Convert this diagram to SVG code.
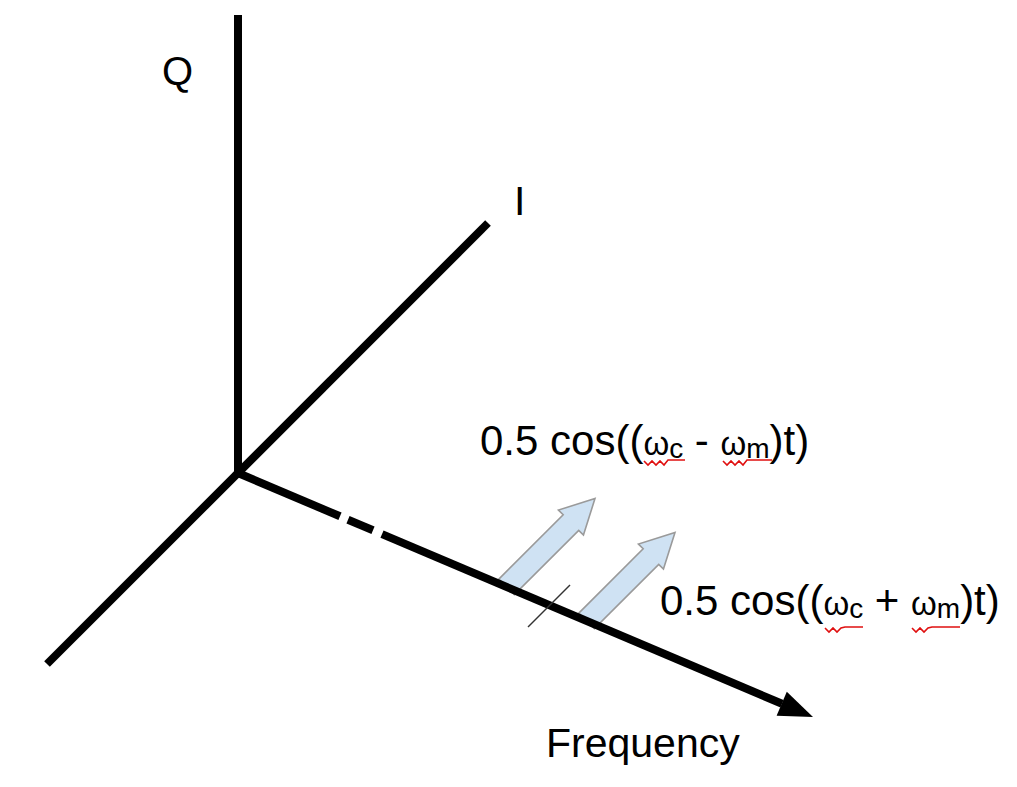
<svg xmlns="http://www.w3.org/2000/svg" width="1017" height="787" viewBox="0 0 1017 787">
<style>
.axis{stroke:#000;stroke-width:8;fill:none;stroke-linecap:butt}
.t{font-family:"Liberation Sans",Arial,sans-serif;fill:#000}
.big{font-size:42px}
.sub{font-size:28px}
.om{font-size:33px}
.blk{fill:#cfe2f3;stroke:#9a9a9a;stroke-width:1.6;stroke-linejoin:miter}
.sq{stroke:#e01010;stroke-width:1.6;fill:none}
</style>
<defs>
<polygon id="blockArrow" class="blk" points="0,-11 91,-11 91,-17.7 125,0 91,17.7 91,11 0,11"/>
</defs>
<rect width="1017" height="787" fill="#fff"/>
<g id="vectors">
<use href="#blockArrow" transform="translate(506.6,586.9) rotate(-45)"/>
<use href="#blockArrow" transform="translate(586.6,620.9) rotate(-45)"/>
</g>
<g id="connectors">
<line id="q-axis" class="axis" x1="238" y1="15" x2="238" y2="477"/>
<line id="i-axis" class="axis" x1="47" y1="664" x2="488" y2="223"/>
<line class="axis" x1="238" y1="473" x2="340" y2="516.3"/>
<line class="axis" x1="348" y1="519.7" x2="373" y2="530.3"/>
<line class="axis" x1="382" y1="534.1" x2="782" y2="703.8"/>
<polygon points="813,717 776.6,715.7 786.8,691.7" fill="#000"/>
<line id="tick" x1="528" y1="627" x2="570" y2="585" stroke="#333" stroke-width="1.5"/>
</g>
<g id="labels">
<text class="t" style="font-size:40px" x="162" y="85">Q</text>
<text class="t" style="font-size:41px" x="514" y="215">I</text>
<text class="t" style="font-size:41px" x="546" y="757">Frequency</text>
</g>
<g id="formula-minus">
<text class="t big" x="480" y="455">0.5 cos((<tspan class="om">ω</tspan><tspan class="sub" dy="3">c</tspan><tspan dy="-3"> - </tspan><tspan class="om">ω</tspan><tspan class="sub" dy="3">m</tspan><tspan dy="-3">)t)</tspan></text>
<polyline class="sq" points="644,461 648,465 652,461 656,465 660,461 664,465 668,460 685,460"/>
<polyline class="sq" points="723,461 727,465 731,461 735,465 739,461 743,465 747,460 772,460"/>
</g>
<g id="formula-plus">
<text class="t big" x="660" y="615">0.5 cos((<tspan class="om">ω</tspan><tspan class="sub" dy="3">c</tspan><tspan dy="-3"> + </tspan><tspan class="om">ω</tspan><tspan class="sub" dy="3">m</tspan><tspan dy="-3">)t)</tspan></text>
<polyline class="sq" points="825,628 829,632 833,628 837,632 841,628 845,627 863,627"/>
<polyline class="sq" points="912,628 916,632 920,628 924,632 928,628 932,627 960,627"/>
</g>
</svg>
